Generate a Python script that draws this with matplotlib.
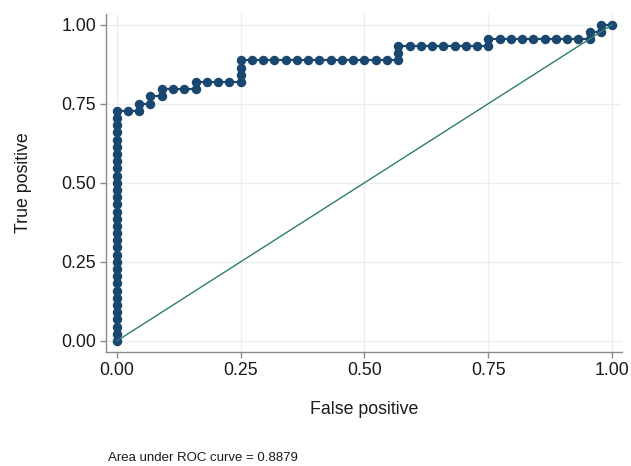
import matplotlib
matplotlib.use("Agg")
import numpy as np
import matplotlib.pyplot as plt

plt.rcParams['font.family'] = ['Liberation Sans', 'DejaVu Sans']

# ROC points, counted out of 44 negatives / 44 positives
n_neg = 44
n_pos = 44
fp_counts = [0, 0, 0, 0, 0, 0, 0, 0, 0, 0, 0, 0, 0, 0, 0, 0, 0, 0, 0, 0, 0, 0, 0, 0, 0, 0, 0, 0, 0, 0, 0, 0, 0,
             1, 2, 2, 3, 3, 4, 4, 5, 6, 7, 7, 8, 9, 10, 11, 11, 11, 11,
             12, 13, 14, 15, 16, 17, 18, 19, 20, 21, 22, 23, 24, 25,
             25, 25,
             26, 27, 28, 29, 30, 31, 32, 33,
             33,
             34, 35, 36, 37, 38, 39, 40, 41, 42,
             42,
             43, 43,
             44]
tp_counts = [0, 1, 2, 3, 4, 5, 6, 7, 8, 9, 10, 11, 12, 13, 14, 15, 16, 17, 18, 19, 20, 21, 22, 23, 24, 25, 26, 27, 28, 29, 30, 31, 32,
             32, 32, 33, 33, 34, 34, 35, 35, 35, 35, 36, 36, 36, 36, 36, 37, 38, 39,
             39, 39, 39, 39, 39, 39, 39, 39, 39, 39, 39, 39, 39, 39,
             40, 41,
             41, 41, 41, 41, 41, 41, 41, 41,
             42,
             42, 42, 42, 42, 42, 42, 42, 42, 42,
             43,
             43, 44,
             44]
auc = 0.8879
ticks = [0.0, 0.25, 0.5, 0.75, 1.0]
tick_labels = ["0.00", "0.25", "0.50", "0.75", "1.00"]

fpr = np.array(fp_counts) / n_neg
tpr = np.array(tp_counts) / n_pos

W, H = 631, 466
fig = plt.figure(figsize=(W / 100, H / 100), dpi=100)
ax = fig.add_axes([106 / W, (H - 352) / H, (622 - 106) / W, (352 - 14) / H])

navy = '#1a476f'
teal = '#2e7d6b'
grid = '#e8f0f2'

ax.plot(fpr, tpr, color=navy, lw=1.6, marker='o', ms=5.8, mec=navy, mfc=navy, zorder=3)
ax.plot([0, 1], [0, 1], color=teal, lw=1.0, zorder=4)

ax.set_xlim(-0.0216, 1.0196)
ax.set_ylim(-0.0348, 1.0332)
ax.set_xticks(ticks)
ax.set_xticklabels(tick_labels)
ax.set_yticks(ticks)
ax.set_yticklabels(tick_labels)
ax.grid(True, color=grid, lw=1.0, zorder=0)
ax.set_axisbelow(True)

for s in ['top', 'right']:
    ax.spines[s].set_visible(False)
for s in ['left', 'bottom']:
    ax.spines[s].set_color('#8a8a8a')
    ax.spines[s].set_linewidth(1.0)
ax.tick_params(axis='both', length=4, width=1.0, color='#8a8a8a', pad=3,
               labelsize=12.8, labelcolor='#1a1a1a')

ax.set_xlabel("False positive", fontsize=12.8, color='#1a1a1a', labelpad=16)
ax.set_ylabel("True positive", fontsize=12.8, color='#1a1a1a', labelpad=21)

fig.text(108 / W, 1 - 458 / H, "Area under ROC curve = %.4f" % auc,
         fontsize=9.5, color='#1a1a1a', va='center', ha='left')

fig.savefig("out.png", dpi=100, facecolor='white')
